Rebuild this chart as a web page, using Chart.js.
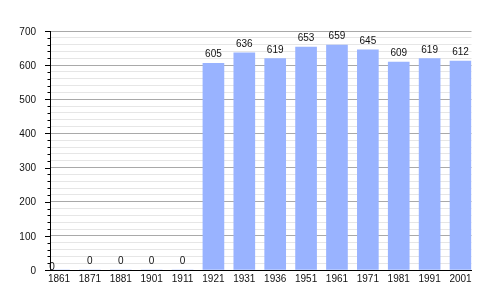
<!DOCTYPE html>
<html>
<head>
<meta charset="utf-8">
<script src="https://cdn.jsdelivr.net/npm/chart.js@4/dist/chart.umd.min.js"></script>
<style>
  html, body { margin: 0; padding: 0; background: #fff; }
  #wrap { width: 500px; height: 300px; }
</style>
</head>
<body>
<div id="wrap"><canvas id="c" width="500" height="300"></canvas></div>
<script>
const years = ["1861","1871","1881","1901","1911","1921","1931","1936","1951","1961","1971","1981","1991","2001"];
const population = [0, 0, 0, 0, 0, 605, 636, 619, 653, 659, 645, 609, 619, 612];
const yTicks = [0, 100, 200, 300, 400, 500, 600, 700];

const FONT = "'Liberation Sans', Arial, sans-serif";

const valueLabels = {
  id: 'valueLabels',
  afterDatasetsDraw(chart) {
    const ctx = chart.ctx;
    const meta = chart.getDatasetMeta(0);
    ctx.save();
    ctx.font = "10px " + FONT;
    ctx.fillStyle = '#111';
    ctx.textAlign = 'center';
    ctx.textBaseline = 'alphabetic';
    meta.data.forEach((el, i) => {
      let x = el.x, y = el.y - 6;
      if (i === 0) { x -= 7; y += 6; }
      ctx.fillText(String(population[i]), x, y);
    });
    ctx.restore();
  }
};

const yTickMarks = {
  id: 'yTickMarks',
  afterDraw(chart) {
    const ctx = chart.ctx;
    const ys = chart.scales.y;
    const left = chart.chartArea.left;
    ctx.save();
    ctx.strokeStyle = '#000';
    ctx.lineWidth = 1;
    for (let v = 0; v <= 700; v += 20) {
      const py = Math.round(ys.getPixelForValue(v)) + 0.5;
      const len = (v % 100 === 0) ? 5 : 2.5;
      ctx.beginPath();
      ctx.moveTo(left - len, py);
      ctx.lineTo(left, py);
      ctx.stroke();
    }
    ctx.restore();
  }
};

new Chart(document.getElementById('c'), {
  type: 'bar',
  data: {
    datasets: [{
      data: population.map((v, i) => ({ x: i, y: v })),
      backgroundColor: '#99b3ff',
      borderWidth: 0,
      barThickness: 21
    }]
  },
  options: {
    responsive: false,
    animation: false,
    events: [],
    layout: { padding: { left: 0, right: 28.5, top: 31, bottom: 0 } },
    plugins: { legend: { display: false }, tooltip: { enabled: false } },
    scales: {
      x: {
        type: 'linear',
        offset: false,
        min: -0.2914,
        max: 13.356,
        afterBuildTicks(scale) { scale.ticks = years.map((_, i) => ({ value: i })); },
        afterFit(scale) { scale.height = 30; },
        grid: { display: false, drawTicks: false, offset: false },
        border: { display: true, color: '#000', width: 1 },
        ticks: {
          autoSkip: false, maxRotation: 0, padding: 3,
          color: '#111', font: { family: FONT, size: 10 },
          callback: (v) => years[v] !== undefined ? years[v] : ''
        }
      },
      y: {
        min: 0,
        max: 700,
        afterFit(scale) { scale.width = 50; },
        grid: {
          drawTicks: false,
          color: (c) => (c.tick && c.tick.value % 100 === 0) ? '#a9a9a9' : '#e6e6e6',
          lineWidth: 1
        },
        border: { display: true, color: '#000', width: 1 },
        ticks: {
          stepSize: 20, autoSkip: false, padding: 14, labelOffset: 1,
          color: '#111', font: { family: FONT, size: 10 },
          callback: (v) => yTicks.includes(v) ? String(v) : ''
        }
      }
    }
  },
  plugins: [valueLabels, yTickMarks]
});
</script>
</body>
</html>
